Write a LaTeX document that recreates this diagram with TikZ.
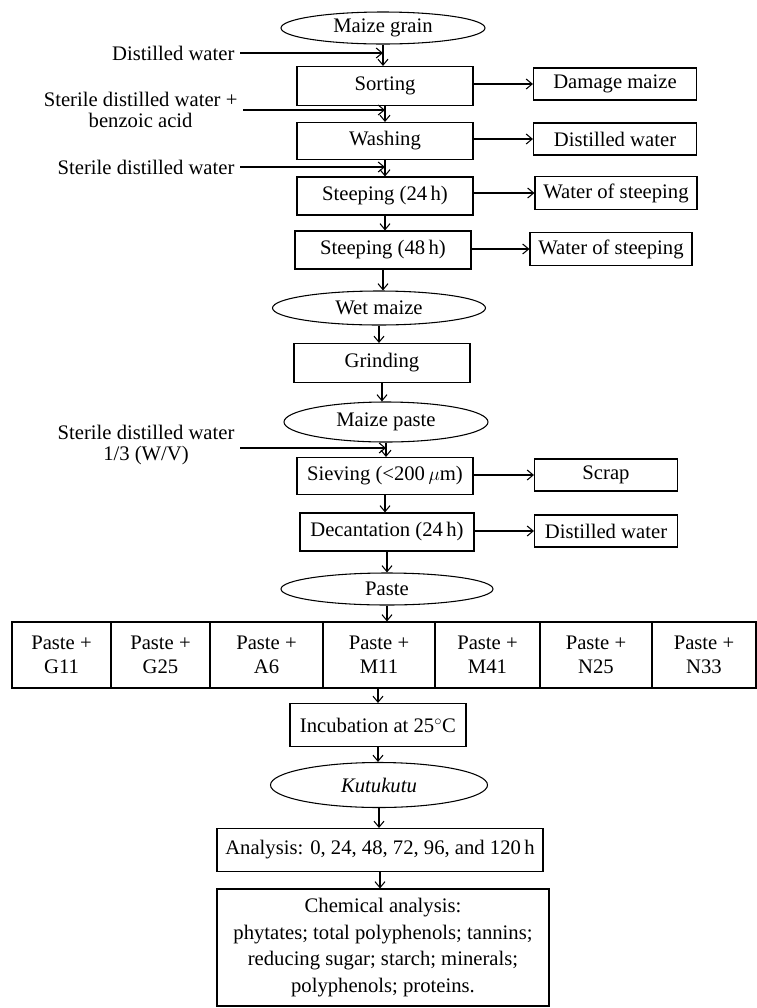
\documentclass[tikz,border=0pt]{standalone}
\usepackage{fontspec}
\setmainfont{Liberation Serif}
\usetikzlibrary{shapes.geometric,arrows.meta}
\begin{document}
\begin{tikzpicture}[x=0.75pt,y=-0.75pt,
  every node/.style={font=\fontsize{15.5}{19}\selectfont, inner sep=0pt},
  sz/.style 2 args={minimum width=#1*0.75pt, minimum height=#2*0.75pt},
  box/.style={draw, rectangle, line width=0.8pt, align=center},
  oval/.style={draw, ellipse, line width=0.8pt, align=center},
  lbl/.style={align=center, anchor=east, inner xsep=4pt, font=\fontsize{15.5}{15.5}\selectfont},
  rowtext/.style={font=\fontsize{15.5}{18}\selectfont},
  flow/.style={line width=0.8pt, -{Straight Barb[length=4.5pt,width=7.5pt]}},
]
\useasboundingbox (0,0) rectangle (757,1008);

% main column
\node[oval, sz={204}{32}] (mg) at (383,28) {Maize grain};
\node[box, sz={176}{39}] (sort) at (385,86) {Sorting};
\node[box, sz={163}{32}] (dm) at (615,84) {Damage maize};
\node[box, sz={176}{37}] (wash) at (385,141) {Washing};
\node[box, sz={163}{32}] (dw2) at (615,139) {Distilled water};
\node[box, sz={176}{38}] (s24) at (385,196) {Steeping (24\,h)};
\node[box, sz={162}{33}] (ws1) at (616,193) {Water of steeping};
\node[box, sz={176}{38}] (s48) at (383,250) {Steeping (48\,h)};
\node[box, sz={162}{33}] (ws2) at (611,249) {Water of steeping};
\node[oval, sz={213}{34}] (wet) at (379,308) {Wet maize};
\node[box, sz={176}{39}] (grind) at (382,363) {Grinding};
\node[oval, sz={204}{40}] (mp) at (386,422) {Maize paste};
\node[box, sz={176}{37}] (sieve) at (385,476) {Sieving (<200\,$\mu$m)};
\node[box, sz={143}{32}] (scrap) at (606,475) {Scrap};
\node[box, sz={174}{38}] (dec) at (387,532) {Decantation (24\,h)};
\node[box, sz={143}{32}] (dw3) at (606,531) {Distilled water};
\node[oval, sz={212}{32}] (paste) at (387,589) {Paste};

% row of pastes
\node[box, rowtext, sz={99}{66}] (p1) at (61.5,655) {Paste +\\G11};
\node[box, rowtext, sz={99}{66}] (p2) at (160.5,655) {Paste +\\G25};
\node[box, rowtext, sz={113}{66}] (p3) at (266.5,655) {Paste +\\A6};
\node[box, rowtext, sz={112}{66}] (p4) at (379,655) {Paste +\\M11};
\node[box, rowtext, sz={105}{66}] (p5) at (487.5,655) {Paste +\\M41};
\node[box, rowtext, sz={112}{66}] (p6) at (596,655) {Paste +\\N25};
\node[box, rowtext, sz={104}{66}] (p7) at (704,655) {Paste +\\N33};

\node[box, sz={176}{43}] (inc) at (378,725) {Incubation at 25$^{\circ}$C};
\node[oval, sz={217}{45}] (kutu) at (379,785) {\textit{Kutukutu}};
\node[box, sz={326}{43}] (ana) at (380,850) {Analysis: 0, 24, 48, 72, 96, and 120\,h};
\node[box, sz={332}{117}, font=\fontsize{15.5}{20}\selectfont] (chem) at (383,947.5)
  {Chemical analysis:\\phytates; total polyphenols; tannins;\\reducing sugar; starch; minerals;\\polyphenols; proteins.};

% inputs on the left
\node[lbl] (in1) at (240,53) {Distilled water};
\node[lbl] (in2) at (243,110) {Sterile distilled water +\\benzoic acid};
\node[lbl] (in3) at (240,167) {Sterile distilled water};
\node[lbl] (in4) at (240,445) {Sterile distilled water\\1/3 (W/V)};
\coordinate (j4) at (386,448);

% vertical flow
\draw[flow] (mg.south) -- (mg.south |- sort.north);
\draw[flow] (sort.south) -- (sort.south |- wash.north);
\draw[flow] (wash.south) -- (wash.south |- s24.north);
\draw[flow] (s24.south) -- (s24.south |- s48.north);
\draw[flow] (s48.south) -- (s48.south |- wet.north);
\draw[flow] (wet.south) -- (wet.south |- grind.north);
\draw[flow] (grind.south) -- (grind.south |- mp.north);
\draw[flow] (mp.south) -- (mp.south |- sieve.north);
\draw[flow] (sieve.south) -- (sieve.south |- dec.north);
\draw[flow] (dec.south) -- (dec.south |- paste.north);
\draw[flow] (paste.south) -- (paste.south |- p4.north);
\draw[flow] (inc.north |- p4.south) -- (inc.north);
\draw[flow] (inc.south) -- (inc.south |- kutu.north);
\draw[flow] (kutu.south) -- (kutu.south |- ana.north);
\draw[flow] (ana.south) -- (ana.south |- chem.north);

% side outputs
\draw[flow] (dm.west -| sort.east) -- (dm.west);
\draw[flow] (dw2.west -| wash.east) -- (dw2.west);
\draw[flow] (ws1.west -| s24.east) -- (ws1.west);
\draw[flow] (ws2.west -| s48.east) -- (ws2.west);
\draw[flow] (scrap.west -| sieve.east) -- (scrap.west);
\draw[flow] (dw3.west -| dec.east) -- (dw3.west);

% side inputs
\draw[flow] (in1.east) -- (in1.east -| mg.south);
\draw[flow] (in2.east) -- (in2.east -| sort.south);
\draw[flow] (in3.east) -- (in3.east -| wash.south);
\draw[flow] (in4.east |- j4) -- (j4);
\end{tikzpicture}
\end{document}
